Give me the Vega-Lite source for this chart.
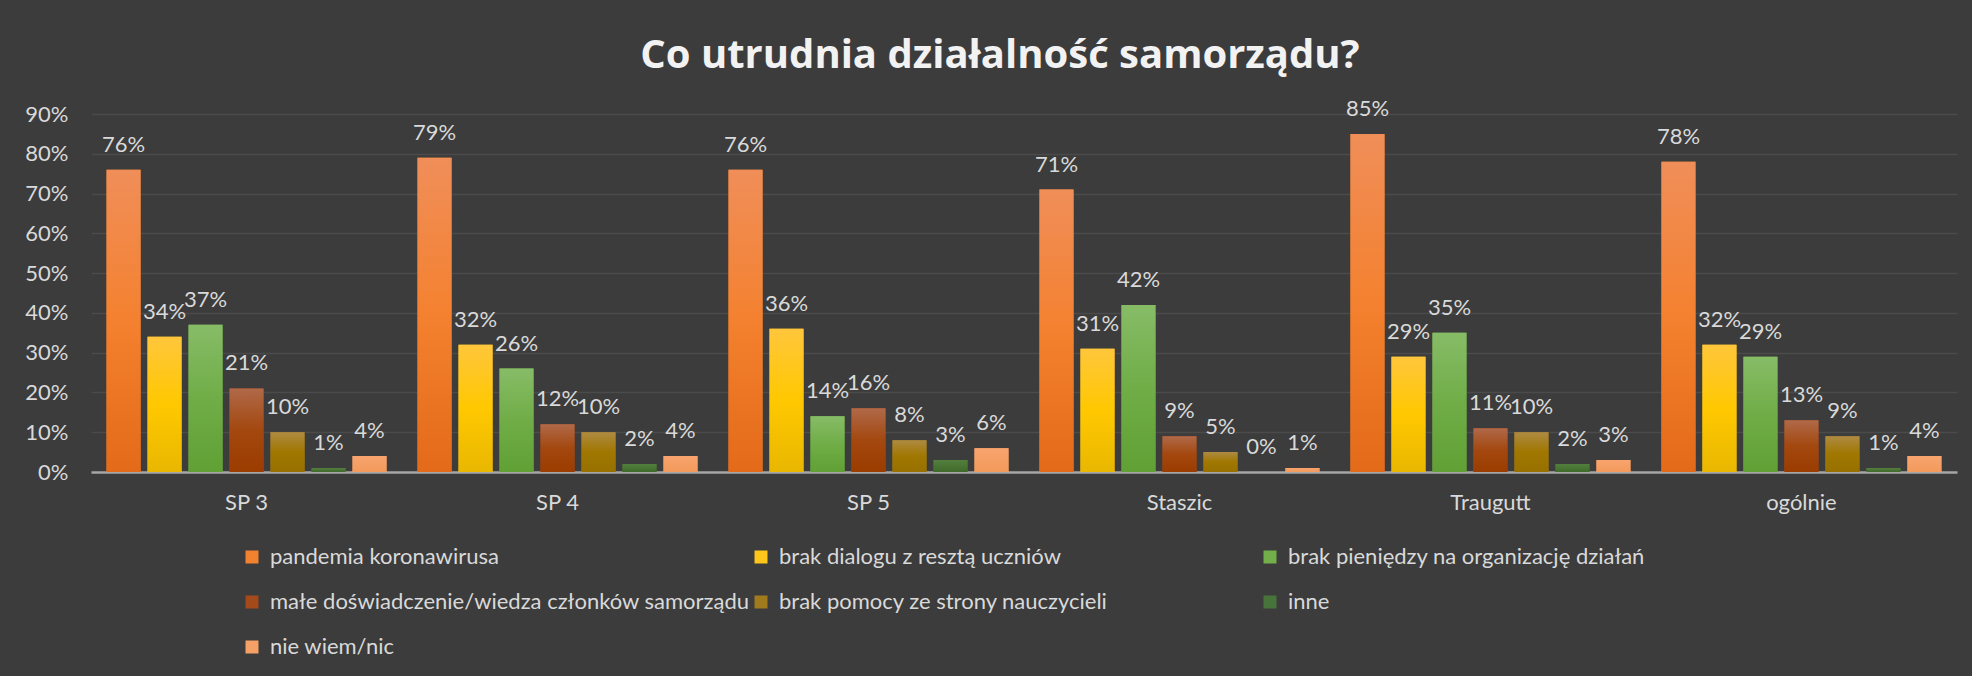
{
  "$schema": "https://vega.github.io/schema/vega-lite/v6.json",
  "autosize": "none",
  "padding": {"left": 91, "top": 114, "right": 15, "bottom": 204},
  "width": 1866,
  "height": 358,
  "background": "#3c3c3c",
  "title": {
    "text": "Co utrudnia działalność samorządu?",
    "font": "Open Sans",
    "fontWeight": "bold",
    "fontSize": 40,
    "color": "#f2f2f2",
    "anchor": "middle",
    "baseline": "alphabetic",
    "dx": -24,
    "dy": 32,
    "offset": 22
  },
  "data": {
    "values": [
      {"g": "SP 3", "c": "pandemia koronawirusa", "v": 0.76},
      {"g": "SP 3", "c": "brak dialogu z resztą uczniów", "v": 0.34},
      {"g": "SP 3", "c": "brak pieniędzy na organizację działań", "v": 0.37},
      {"g": "SP 3", "c": "małe doświadczenie/wiedza członków samorządu", "v": 0.21},
      {"g": "SP 3", "c": "brak pomocy ze strony nauczycieli", "v": 0.10},
      {"g": "SP 3", "c": "inne", "v": 0.01},
      {"g": "SP 3", "c": "nie wiem/nic", "v": 0.04},
      {"g": "SP 4", "c": "pandemia koronawirusa", "v": 0.79},
      {"g": "SP 4", "c": "brak dialogu z resztą uczniów", "v": 0.32},
      {"g": "SP 4", "c": "brak pieniędzy na organizację działań", "v": 0.26},
      {"g": "SP 4", "c": "małe doświadczenie/wiedza członków samorządu", "v": 0.12},
      {"g": "SP 4", "c": "brak pomocy ze strony nauczycieli", "v": 0.10},
      {"g": "SP 4", "c": "inne", "v": 0.02},
      {"g": "SP 4", "c": "nie wiem/nic", "v": 0.04},
      {"g": "SP 5", "c": "pandemia koronawirusa", "v": 0.76},
      {"g": "SP 5", "c": "brak dialogu z resztą uczniów", "v": 0.36},
      {"g": "SP 5", "c": "brak pieniędzy na organizację działań", "v": 0.14},
      {"g": "SP 5", "c": "małe doświadczenie/wiedza członków samorządu", "v": 0.16},
      {"g": "SP 5", "c": "brak pomocy ze strony nauczycieli", "v": 0.08},
      {"g": "SP 5", "c": "inne", "v": 0.03},
      {"g": "SP 5", "c": "nie wiem/nic", "v": 0.06},
      {"g": "Staszic", "c": "pandemia koronawirusa", "v": 0.71},
      {"g": "Staszic", "c": "brak dialogu z resztą uczniów", "v": 0.31},
      {"g": "Staszic", "c": "brak pieniędzy na organizację działań", "v": 0.42},
      {"g": "Staszic", "c": "małe doświadczenie/wiedza członków samorządu", "v": 0.09},
      {"g": "Staszic", "c": "brak pomocy ze strony nauczycieli", "v": 0.05},
      {"g": "Staszic", "c": "inne", "v": 0.0},
      {"g": "Staszic", "c": "nie wiem/nic", "v": 0.01},
      {"g": "Traugutt", "c": "pandemia koronawirusa", "v": 0.85},
      {"g": "Traugutt", "c": "brak dialogu z resztą uczniów", "v": 0.29},
      {"g": "Traugutt", "c": "brak pieniędzy na organizację działań", "v": 0.35},
      {"g": "Traugutt", "c": "małe doświadczenie/wiedza członków samorządu", "v": 0.11},
      {"g": "Traugutt", "c": "brak pomocy ze strony nauczycieli", "v": 0.10},
      {"g": "Traugutt", "c": "inne", "v": 0.02},
      {"g": "Traugutt", "c": "nie wiem/nic", "v": 0.03},
      {"g": "ogólnie", "c": "pandemia koronawirusa", "v": 0.78},
      {"g": "ogólnie", "c": "brak dialogu z resztą uczniów", "v": 0.32},
      {"g": "ogólnie", "c": "brak pieniędzy na organizację działań", "v": 0.29},
      {"g": "ogólnie", "c": "małe doświadczenie/wiedza członków samorządu", "v": 0.13},
      {"g": "ogólnie", "c": "brak pomocy ze strony nauczycieli", "v": 0.09},
      {"g": "ogólnie", "c": "inne", "v": 0.01},
      {"g": "ogólnie", "c": "nie wiem/nic", "v": 0.04}
    ]
  },
  "encoding": {
    "x": {
      "field": "g",
      "type": "nominal",
      "sort": null,
      "scale": {"paddingInner": 0.0997, "paddingOuter": 0.05},
      "axis": {
        "title": null,
        "labelAngle": 0,
        "ticks": false,
        "labelPadding": 20,
        "labelFont": "Lato",
        "labelFontSize": 22,
        "labelColor": "#d9d9d9",
        "domainColor": "#a6a6a6",
        "domainWidth": 2.5,
        "grid": false
      }
    },
    "xOffset": {
      "field": "c",
      "type": "nominal",
      "sort": null,
      "scale": {
        "domain": [
          "pandemia koronawirusa",
          "brak dialogu z resztą uczniów",
          "brak pieniędzy na organizację działań",
          "małe doświadczenie/wiedza członków samorządu",
          "brak pomocy ze strony nauczycieli",
          "inne",
          "nie wiem/nic"
        ],
        "paddingInner": 0.1707,
        "paddingOuter": 0
      }
    },
    "y": {
      "field": "v",
      "type": "quantitative",
      "stack": null,
      "scale": {"domain": [0, 0.9], "nice": false, "zero": true},
      "axis": {
        "title": null,
        "values": [0, 0.1, 0.2, 0.3, 0.4, 0.5, 0.6, 0.7, 0.8, 0.9],
        "format": ".0%",
        "domain": false,
        "ticks": false,
        "labelPadding": 23,
        "labelFont": "Lato",
        "labelFontSize": 22,
        "labelColor": "#d9d9d9",
        "grid": true,
        "gridColor": "#ffffff",
        "gridOpacity": 0.08,
        "gridWidth": 1.5
      }
    }
  },
  "layer": [
    {
      "mark": {"type": "bar"},
      "encoding": {
        "color": {
          "field": "c",
          "type": "nominal",
          "scale": {
            "domain": [
              "pandemia koronawirusa",
              "brak dialogu z resztą uczniów",
              "brak pieniędzy na organizację działań",
              "małe doświadczenie/wiedza członków samorządu",
              "brak pomocy ze strony nauczycieli",
              "inne",
              "nie wiem/nic"
            ],
            "range": ["#f2822f", "#fec51a", "#72ae4a", "#a4491a", "#a17a1e", "#47743a", "#f5a066"]
          },
          "legend": {
            "title": null,
            "orient": "none",
            "direction": "horizontal",
            "legendX": 150,
            "legendY": 432,
            "columns": 3,
            "gridAlign": "all",
            "columnPadding": 0,
            "rowPadding": 23,
            "symbolType": "square",
            "symbolSize": 169,
            "symbolStrokeWidth": 0,
            "labelFont": "Lato",
            "labelFontSize": 22,
            "labelColor": "#d9d9d9",
            "labelOffset": 7,
            "labelLimit": 1000,
            "padding": 0
          }
        }
      }
    },
    {
      "transform": [{"filter": {"field": "c", "equal": "pandemia koronawirusa"}}],
      "mark": {"type": "bar", "color": {"gradient": "linear", "x1": 0, "y1": 0, "x2": 0, "y2": 1, "stops": [{"offset": 0, "color": "#f08e59"}, {"offset": 0.5, "color": "#f4812f"}, {"offset": 1, "color": "#e36a18"}]}}
    },
    {
      "transform": [{"filter": {"field": "c", "equal": "brak dialogu z resztą uczniów"}}],
      "mark": {"type": "bar", "color": {"gradient": "linear", "x1": 0, "y1": 0, "x2": 0, "y2": 1, "stops": [{"offset": 0, "color": "#ffc63c"}, {"offset": 0.5, "color": "#ffc800"}, {"offset": 1, "color": "#e9b700"}]}}
    },
    {
      "transform": [{"filter": {"field": "c", "equal": "brak pieniędzy na organizację działań"}}],
      "mark": {"type": "bar", "color": {"gradient": "linear", "x1": 0, "y1": 0, "x2": 0, "y2": 1, "stops": [{"offset": 0, "color": "#87bc67"}, {"offset": 0.5, "color": "#70ad47"}, {"offset": 1, "color": "#60a034"}]}}
    },
    {
      "transform": [{"filter": {"field": "c", "equal": "małe doświadczenie/wiedza członków samorządu"}}],
      "mark": {"type": "bar", "color": {"gradient": "linear", "x1": 0, "y1": 0, "x2": 0, "y2": 1, "stops": [{"offset": 0, "color": "#b06949"}, {"offset": 0.5, "color": "#a3480f"}, {"offset": 1, "color": "#9b3c00"}]}}
    },
    {
      "transform": [{"filter": {"field": "c", "equal": "brak pomocy ze strony nauczycieli"}}],
      "mark": {"type": "bar", "color": {"gradient": "linear", "x1": 0, "y1": 0, "x2": 0, "y2": 1, "stops": [{"offset": 0, "color": "#ae8a42"}, {"offset": 0.5, "color": "#a07700"}, {"offset": 1, "color": "#977000"}]}}
    },
    {
      "transform": [{"filter": {"field": "c", "equal": "inne"}}],
      "mark": {"type": "bar", "color": {"gradient": "linear", "x1": 0, "y1": 0, "x2": 0, "y2": 1, "stops": [{"offset": 0, "color": "#537f3e"}, {"offset": 1, "color": "#3f6a2b"}]}}
    },
    {
      "transform": [{"filter": {"field": "c", "equal": "nie wiem/nic"}}],
      "mark": {"type": "bar", "color": {"gradient": "linear", "x1": 0, "y1": 0, "x2": 0, "y2": 1, "stops": [{"offset": 0, "color": "#f8a46e"}, {"offset": 1, "color": "#f39a5c"}]}}
    },
    {
      "mark": {
        "type": "text",
        "dy": -18,
        "baseline": "alphabetic",
        "font": "Lato",
        "fontSize": 22,
        "fill": "#d9d9d9"
      },
      "encoding": {
        "text": {"field": "v", "type": "quantitative", "format": ".0%"}
      }
    }
  ],
  "config": {
    "view": {"stroke": null},
    "font": "Lato"
  }
}
